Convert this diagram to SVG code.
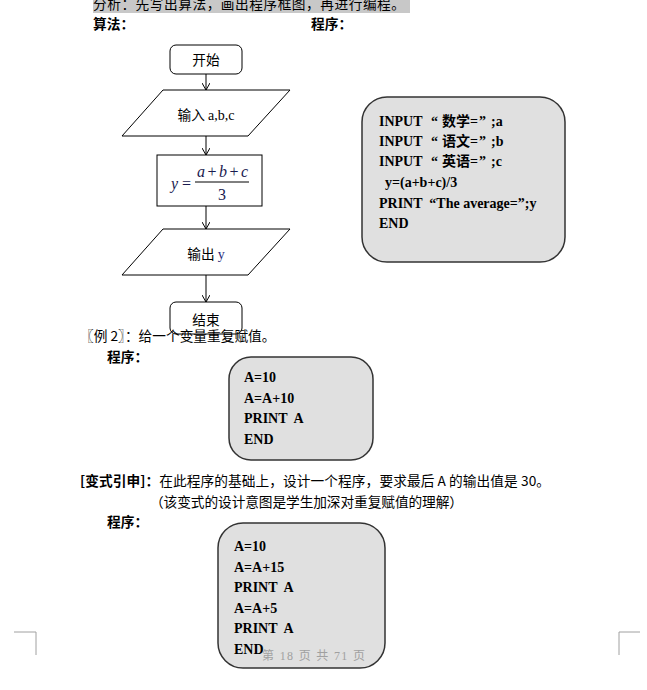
<svg xmlns="http://www.w3.org/2000/svg" width="647" height="690" viewBox="0 0 647 690">
<defs>
<style>
.cn{font-family:"Noto Sans CJK SC","Liberation Sans",sans-serif;font-size:13.7px;fill:#000}
.bold{font-weight:bold}
.code{font-family:"Liberation Serif","Noto Sans CJK SC",serif;font-weight:bold;font-size:14px;fill:#000;white-space:pre}
.shape{fill:#fff;stroke:#000;stroke-width:1}
.cbox{fill:#e0e0e0;stroke:#333;stroke-width:1.5}
.line{stroke:#000;stroke-width:1;fill:none}
.math{font-family:"Liberation Serif","DejaVu Serif",serif;font-style:italic;font-size:16px;fill:#1a1a50}
.mnum{font-family:"Liberation Serif","DejaVu Serif",serif;font-size:16px;fill:#1a1a50}
.mark{stroke:#a0a0a0;stroke-width:1;fill:none}
</style>
<marker id="arr" markerWidth="8" markerHeight="8" refX="7" refY="4" orient="auto" markerUnits="userSpaceOnUse">
<path d="M0,0 L7,4 L0,8" fill="none" stroke="#000" stroke-width="1"/>
</marker>
</defs>
<rect width="647" height="690" fill="#fff"/>

<g id="header">
<rect x="93" y="0" width="317" height="13" fill="#c8c8c8"/>
<text class="cn" x="93" y="9" textLength="312" lengthAdjust="spacing">分析：先写出算法，画出程序框图，再进行编程。</text>
<text class="cn bold" x="93" y="29">算法：</text>
<text class="cn bold" x="311" y="29">程序：</text>
</g>

<g id="connectors">
<line class="line" x1="206" y1="74" x2="206" y2="90" marker-end="url(#arr)"/>
<line class="line" x1="206" y1="136" x2="206" y2="155" marker-end="url(#arr)"/>
<line class="line" x1="206" y1="206" x2="206" y2="229" marker-end="url(#arr)"/>
<line class="line" x1="206" y1="275" x2="206" y2="302" marker-end="url(#arr)"/>
</g>

<g id="start">
<rect class="shape" x="170" y="45" width="72" height="29" rx="6"/>
<text class="cn" x="206" y="65" text-anchor="middle" font-size="14">开始</text>
</g>

<g id="input">
<polygon class="shape" points="163,90 290,90 248,136 122,136"/>
<text class="cn" x="206" y="120" text-anchor="middle" font-size="14">输入 <tspan font-family="Liberation Serif,serif" font-size="14">a,b,c</tspan></text>
</g>

<g id="compute">
<rect class="shape" x="157" y="155" width="105" height="51"/>
<text class="math" x="171" y="189">y</text>
<text class="mnum" x="182" y="189">=</text>
<line x1="195" y1="182" x2="249" y2="182" stroke="#000" stroke-width="1"/>
<text class="math" x="197" y="177" textLength="51" lengthAdjust="spacing">a<tspan font-style="normal"> + </tspan>b<tspan font-style="normal"> + </tspan>c</text>
<text class="mnum" x="222" y="200" text-anchor="middle">3</text>
</g>

<g id="output">
<polygon class="shape" points="163,229 290,229 248,275 122,275"/>
<text class="cn" x="206" y="259" text-anchor="middle" font-size="14">输出 <tspan font-family="Liberation Serif,serif" font-size="14" fill="#2a2a7a">y</tspan></text>
</g>

<g id="end">
<rect class="shape" x="170" y="302" width="72" height="32" rx="6"/>
<text class="cn" x="206" y="325" text-anchor="middle" font-size="14">结束</text>
</g>

<g id="program1">
<rect class="cbox" x="362" y="97" width="203" height="165" rx="25"/>
<text class="code" x="379" y="126">INPUT<tspan x="431">“</tspan><tspan x="442">数学=</tspan><tspan x="479">”</tspan><tspan x="491">;a</tspan></text>
<text class="code" x="379" y="146">INPUT<tspan x="431">“</tspan><tspan x="442">语文=</tspan><tspan x="479">”</tspan><tspan x="491">;b</tspan></text>
<text class="code" x="379" y="166">INPUT<tspan x="431">“</tspan><tspan x="442">英语=</tspan><tspan x="479">”</tspan><tspan x="491">;c</tspan></text>
<text class="code" x="385" y="187">y=(a+b+c)/3</text>
<text class="code" x="379" y="208" xml:space="preserve">PRINT  “The average=”;y</text>
<text class="code" x="379" y="228">END</text>
</g>

<g id="example2">
<text class="cn" x="80" y="341">〖例 2〗：给一个变量重复赋值。</text>
<text class="cn bold" x="107" y="362">程序：</text>
</g>

<g id="program2">
<rect class="cbox" x="229" y="357" width="144" height="103" rx="22"/>
<text class="code" x="244" y="382">A=10</text>
<text class="code" x="244" y="403">A=A+10</text>
<text class="code" x="244" y="423" xml:space="preserve">PRINT  A</text>
<text class="code" x="244" y="444">END</text>
</g>

<g id="variant">
<text class="cn" x="80" y="486" textLength="470" lengthAdjust="spacing"><tspan font-weight="bold">[变式引申]：</tspan>在此程序的基础上，设计一个程序，要求最后 A 的输出值是 30。</text>
<text class="cn" x="150" y="507" textLength="313" lengthAdjust="spacing">（该变式的设计意图是学生加深对重复赋值的理解）</text>
<text class="cn bold" x="107" y="527">程序：</text>
</g>

<g id="program3">
<rect class="cbox" x="218" y="523" width="167" height="145" rx="25"/>
<text class="code" x="234" y="551">A=10</text>
<text class="code" x="234" y="572">A=A+15</text>
<text class="code" x="234" y="592" xml:space="preserve">PRINT  A</text>
<text class="code" x="234" y="613">A=A+5</text>
<text class="code" x="234" y="633" xml:space="preserve">PRINT  A</text>
<text class="code" x="234" y="654">END</text>
</g>

<g id="footer">
<text font-family="Liberation Serif,Noto Sans CJK SC,serif" font-size="12" fill="#a0a0a0" x="262" y="660" textLength="103" lengthAdjust="spacing">第 18 页 共 71 页</text>
<polyline class="mark" points="14,632 36,632 36,655"/>
<polyline class="mark" points="640,632 619,632 619,655"/>
</g>
</svg>
